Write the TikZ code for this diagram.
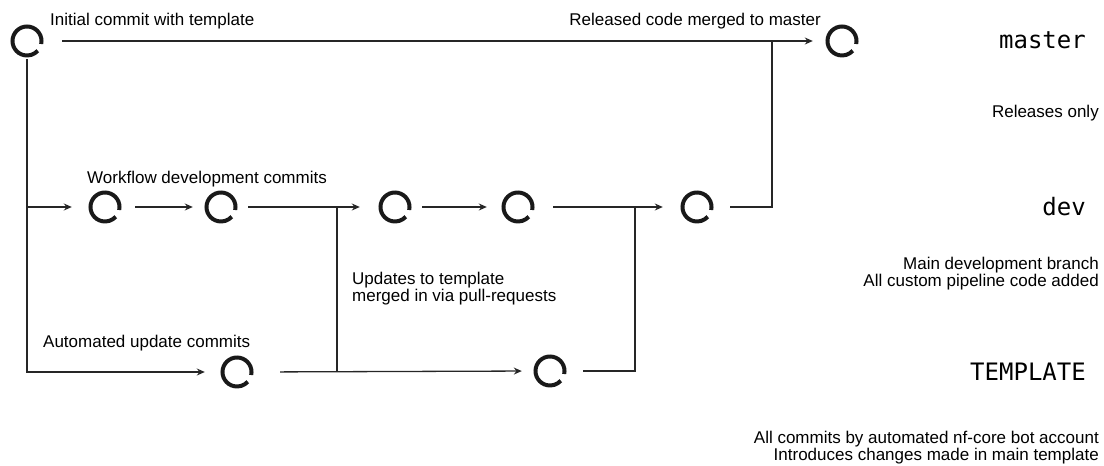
\documentclass[tikz,border=0pt]{standalone}
\usepackage{fontspec}
\setmainfont{Liberation Sans}
\newfontfamily\monofam{DejaVu Sans Mono}
\usetikzlibrary{arrows.meta}
\begin{document}
\begin{tikzpicture}[x=1pt,y=-1pt,
  commit/.style={circle,minimum size=36pt,inner sep=0pt,
    path picture={\draw[line width=4pt,black!90]
      ([shift={(-12:14.5pt)}]path picture bounding box.center)
      arc[start angle=-12,end angle=318,radius=14.5pt];}},
  conn/.style={line width=1.3pt,black!85},
  arr/.style={conn,-{Stealth[length=8pt,width=7pt]}},
  lbl/.style={font=\fontsize{17}{17}\selectfont,inner sep=0pt},
  branch/.style={font=\monofam\fontsize{24}{24}\selectfont,inner sep=0pt}]
\useasboundingbox (0,0) rectangle (1104,466);
% commits
\node[commit] (c0) at (27,41) {};
\node[commit] (m1) at (842,41) {};
\node[commit] (d1) at (105,207) {};
\node[commit] (d2) at (221,207) {};
\node[commit] (d3) at (395,207) {};
\node[commit] (d4) at (518,207) {};
\node[commit] (d5) at (697,207) {};
\node[commit] (t1) at (237,372) {};
\node[commit] (t2) at (550,371) {};
% junction coordinates
\coordinate (mj) at (772,41);
\coordinate (tj1) at (337,372);
\coordinate (dj1) at (337,207);
\coordinate (dj2) at (635,207);
% connectors
\draw[arr,shorten <=17pt,shorten >=11pt] (c0.east) -- (m1.west);
\draw[arr,shorten <=6pt,shorten >=14pt] (c0.south) |- (t1.west);
\draw[arr,shorten >=15pt] (c0.south) |- (d1.west);
\draw[arr,shorten <=12pt,shorten >=10pt] (d1.east) -- (d2.west);
\draw[arr,shorten <=9pt,shorten >=17pt] (d2.east) -- (d3.west);
\draw[arr,shorten <=9pt,shorten >=13pt] (d3.east) -- (d4.west);
\draw[arr,shorten <=17pt,shorten >=16pt] (d4.east) -- (d5.west);
\draw[conn,shorten <=15pt] (d5.east) -| (mj);
\draw[arr,shorten <=25pt,shorten >=10pt] (t1.east) -- (t2.west);
\draw[conn] (tj1) -- (dj1);
\draw[conn,shorten <=15pt] (t2.east) -| (dj2);
% labels
\node[lbl,anchor=base west] (l1) at (50,25) {Initial commit with template};
\node[lbl,anchor=base east] (l2) at (821,25) {Released code merged to master};
\node[lbl,anchor=base west] (l3) at (87,183) {Workflow development commits};
\node[lbl,anchor=north west,align=left,font=\fontsize{17}{17}\selectfont] (l4) at (352,272) {Updates to template\\merged in via pull-requests};
\node[lbl,anchor=base west] (l5) at (43,347) {Automated update commits};
% branch names and descriptions
\node[branch,anchor=base east] (bm) at (1086,48) {master};
\node[lbl,anchor=base east] (dm) at (1099,117) {Releases only};
\node[branch,anchor=base east] (bd) at (1086,215) {dev};
\node[lbl,anchor=north east,align=right,font=\fontsize{17}{16.5}\selectfont] (dd) at (1099,257) {Main development branch\\All custom pipeline code added};
\node[lbl,anchor=north east,align=right,font=\fontsize{17}{16.5}\selectfont] (dt) at (1099,431) {All commits by automated nf-core bot account\\Introduces changes made in main template};
\node[branch,anchor=base east] (bt) at (1086,380) {TEMPLATE};
\end{tikzpicture}
\end{document}
